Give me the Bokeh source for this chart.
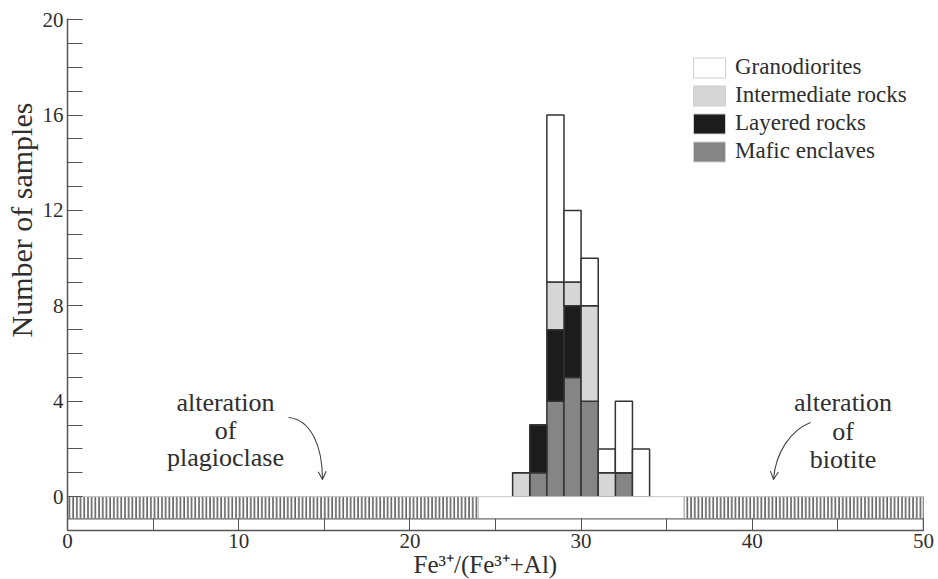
import math
from bokeh.plotting import figure
from bokeh.models import (ColumnDataSource, Range1d, FixedTicker, Legend, LegendItem,
                          Label, Arrow, OpenHead, Title)
from bokeh.embed import file_html
from bokeh.resources import INLINE

# Histogram of Fe3+/(Fe3+ + Al) in biotite, 1-unit bins, counts per rock group
bin_start = [26, 27, 28, 29, 30, 31, 32, 33]
mafic_enclaves = [0, 1, 4, 5, 4, 0, 1, 0]
layered_rocks = [0, 2, 3, 3, 0, 0, 0, 0]
intermediate_rocks = [1, 0, 2, 1, 4, 1, 0, 0]
granodiorites = [0, 0, 7, 3, 2, 1, 3, 2]

groups = ["Granodiorites", "Intermediate rocks", "Layered rocks", "Mafic enclaves"]
group_colors = ["#ffffff", "#d6d6d6", "#1c1c1c", "#858585"]

x_ticks = [0, 10, 20, 30, 40, 50]
x_minor = [5, 15, 25, 35, 45]
y_ticks = [0, 4, 8, 12, 16, 20]

# altered ranges on the bottom strip (hatched) and the unaltered window
altered_left = [0, 36]
altered_right = [24, 50]
fresh_left, fresh_right = 24, 36

SERIF = "Liberation Serif"
INK = "#2e2e2e"

W, H = 938, 579
BL, BR, BT, BB = 67, 15, 18, 49
X0, X1 = 0, 50
Y0, Y1 = -1.42, 20.05
px_per_x = (W - BL - BR) / (X1 - X0)
px_per_y = (H - BT - BB) / (Y1 - Y0)


def dx(px):
    """canvas x pixel -> data x"""
    return X0 + (px - BL) / px_per_x


def dy(py):
    """canvas y pixel -> data y"""
    return Y1 - (py - BT) / px_per_y


src = ColumnDataSource(dict(
    center=[b + 0.5 for b in bin_start],
    mafic=mafic_enclaves,
    layered=layered_rocks,
    intermediate=intermediate_rocks,
    granodiorites=granodiorites,
))

p = figure(width=W, height=H,
           x_range=Range1d(X0, X1), y_range=Range1d(Y0, Y1),
           output_backend="svg", toolbar_location=None,
           min_border_left=BL, min_border_right=BR,
           min_border_top=BT, min_border_bottom=BB)
p.outline_line_color = None
p.xgrid.visible = False
p.ygrid.visible = False
p.background_fill_color = "white"

# stacked bars, bottom to top
p.vbar_stack(["mafic", "layered", "intermediate", "granodiorites"],
             x="center", width=1, source=src,
             fill_color=[group_colors[3], group_colors[2], group_colors[1], group_colors[0]],
             line_color="#333333", line_width=1.5)

# bottom strip: hatched where alteration shifts the ratio
band_bottom = -0.93
p.quad(left=altered_left, right=altered_right, bottom=band_bottom, top=0,
       fill_color="white", line_color="#bdbdbd", line_width=1,
       hatch_pattern="|", hatch_scale=3.7, hatch_color="#2a2a2a", hatch_weight=1.2)
p.quad(left=[fresh_left], right=[fresh_right], bottom=band_bottom, top=0,
       fill_color="white", line_color="#c8c8c8", line_width=1)
p.segment(x0=[0], y0=[band_bottom], x1=[50], y1=[band_bottom],
          line_color="#777777", line_width=1.2)
p.segment(x0=[50], y0=[Y0], x1=[50], y1=[0],
          line_color="#555555", line_width=1.5)

# axes
p.xaxis.ticker = FixedTicker(ticks=x_ticks, minor_ticks=x_minor + x_ticks)
p.yaxis.ticker = FixedTicker(ticks=y_ticks, minor_ticks=list(range(0, 21)))
for ax in (p.xaxis, p.yaxis):
    ax.major_tick_out = 0
    ax.minor_tick_out = 0
    ax.axis_line_color = "#555555"
    ax.axis_line_width = 1.5
    ax.major_tick_line_color = "#555555"
    ax.minor_tick_line_color = "#555555"
    ax.major_tick_line_width = 1
    ax.minor_tick_line_width = 1
    ax.major_label_text_font = SERIF
    ax.major_label_text_font_size = "21px"
    ax.major_label_text_color = INK
p.xaxis.major_tick_in = 12
p.xaxis.minor_tick_in = 12
p.yaxis.major_tick_in = 15
p.yaxis.minor_tick_in = 15
p.xaxis.major_label_standoff = 3
p.yaxis.major_label_standoff = 4

# axis titles, placed in the side panels
p.add_layout(Title(text="Number of samples", align="left", offset=193, standoff=3,
                   text_font=SERIF, text_font_size="30px", text_font_style="normal",
                   text_color=INK), "left")
p.add_layout(Title(text="Fe³⁺/(Fe³⁺+Al)", align="left", offset=346, standoff=-4,
                   text_font=SERIF, text_font_size="25px", text_font_style="normal",
                   text_color=INK), "below")

# legend swatches (proxy glyphs with no drawable extent)
nan = float("nan")
proxies = []
for name, col in zip(groups, group_colors):
    r = p.vbar(x=[nan], top=[nan], width=1, fill_color=col,
               line_color="#cfcfcf", line_width=1)
    proxies.append(LegendItem(label=name, renderers=[r]))

legend = Legend(items=proxies, location=(622, 366),
                glyph_width=40, glyph_height=25, label_height=25,
                label_standoff=6, spacing=2, padding=0, margin=0,
                label_text_font=SERIF, label_text_font_size="23px",
                label_text_color=INK,
                border_line_color=None, background_fill_alpha=0)
p.add_layout(legend)


# annotations
def note(x_px, lines, baselines_px):
    for t, yb in zip(lines, baselines_px):
        p.add_layout(Label(x=dx(x_px), y=dy(yb), text=t, text_align="center",
                           text_baseline="alphabetic", text_font=SERIF,
                           text_font_size="26px", text_color=INK))


note(225, ["alteration", "of", "plagioclase"], [402, 430, 457])
note(842.5, ["alteration", "of", "biotite"], [402, 431, 459])

# curved pointers
p.bezier(x0=[dx(288), dx(810)], y0=[dy(417), dy(422)],
         x1=[dx(322), dx(773)], y1=[dy(479), dy(479)],
         cx0=[dx(310), dx(790)], cy0=[dy(419), dy(430)],
         cx1=[dx(322), dx(775)], cy1=[dy(445), dy(452)],
         line_color="#444444", line_width=1.1)
for xs, ys, xe, ye in [(321.7, 472, 322, 479), (773.8, 472, 773, 479)]:
    p.add_layout(Arrow(end=OpenHead(size=8, line_color="#444444", line_width=1.1),
                       x_start=dx(xs), y_start=dy(ys), x_end=dx(xe), y_end=dy(ye),
                       line_alpha=0))

open("out.html", "w").write(file_html(p, INLINE))
